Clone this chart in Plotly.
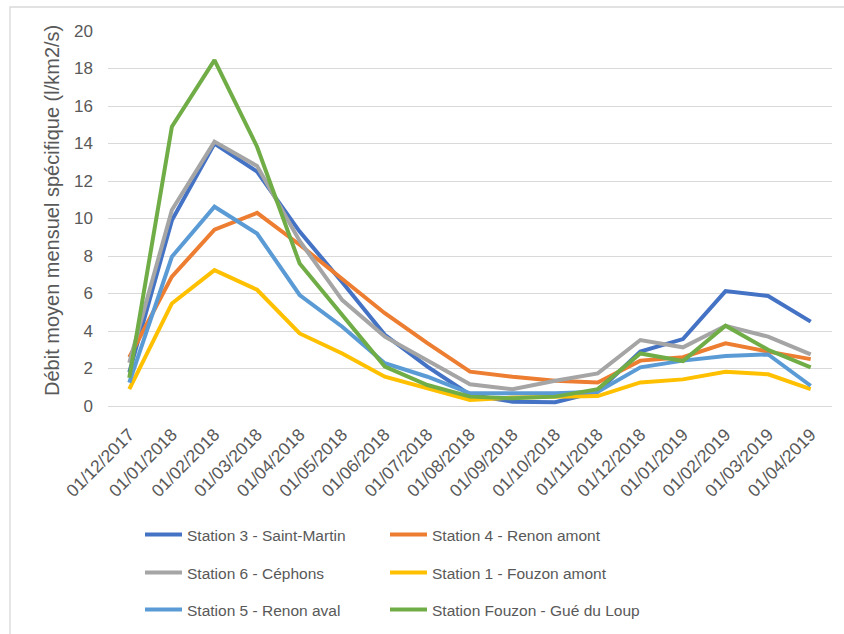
import plotly.graph_objects as go

# Months (first day of each month)
months = ["01/12/2017", "01/01/2018", "01/02/2018", "01/03/2018", "01/04/2018",
          "01/05/2018", "01/06/2018", "01/07/2018", "01/08/2018", "01/09/2018",
          "01/10/2018", "01/11/2018", "01/12/2018", "01/01/2019", "01/02/2019",
          "01/03/2019", "01/04/2019"]

# Specific mean monthly discharge (l/km2/s)
saint_martin = [1.8, 9.9, 14.0, 12.5, 9.3, 6.6, 3.8, 2.1, 0.6, 0.23, 0.2, 0.76, 2.9, 3.57, 6.13, 5.87, 4.5]
renon_amont = [2.6, 6.9, 9.4, 10.3, 8.6, 6.8, 4.95, 3.35, 1.83, 1.56, 1.35, 1.25, 2.42, 2.6, 3.34, 2.9, 2.5]
cephons = [2.3, 10.45, 14.1, 12.8, 8.8, 5.65, 3.7, 2.45, 1.16, 0.89, 1.35, 1.74, 3.52, 3.13, 4.28, 3.7, 2.75]
fouzon_amont = [0.9, 5.47, 7.25, 6.2, 3.87, 2.8, 1.56, 0.94, 0.32, 0.45, 0.5, 0.53, 1.26, 1.42, 1.83, 1.69, 0.9]
renon_aval = [1.25, 7.96, 10.63, 9.2, 5.92, 4.23, 2.28, 1.56, 0.68, 0.68, 0.68, 0.76, 2.06, 2.42, 2.67, 2.75, 1.08]
gue_du_loup = [1.5, 14.9, 18.45, 13.83, 7.6, 4.87, 2.1, 1.12, 0.5, 0.41, 0.5, 0.9, 2.8, 2.4, 4.28, 3.0, 2.06]

series = [
    ("Station 3 - Saint-Martin", saint_martin, "#4472C4"),
    ("Station 4 - Renon amont", renon_amont, "#ED7D31"),
    ("Station 6 - Céphons", cephons, "#A5A5A5"),
    ("Station 1 - Fouzon amont", fouzon_amont, "#FFC000"),
    ("Station 5 - Renon aval", renon_aval, "#5B9BD5"),
    ("Station Fouzon - Gué du Loup", gue_du_loup, "#70AD47"),
]

W, H = 844, 634
ML, MR, MT, MB = 108, 12, 31, 228
PW, PH = W - ML - MR, H - MT - MB

def px_x(px):
    return (px - ML) / PW

def px_y(py):
    return (H - MB - py) / PH

TEXT = "#595959"
FONT = "Liberation Sans, Arial, sans-serif"

fig = go.Figure()

# Legend slots (whole-figure coordinates): two columns, three rows
col_x = [140, 385]
row_y = [535, 573, 610]
legend_names = ["legend", "legend2", "legend3", "legend4", "legend5", "legend6"]

layout_legends = {}
for i, (name, vals, color) in enumerate(series):
    lg = legend_names[i]
    fig.add_trace(go.Scatter(
        x=months, y=vals, name=name, mode="lines",
        line=dict(color=color, width=4),
        legend=lg, hoverinfo="x+y+name",
    ))
    layout_legends[lg] = dict(
        xref="container", yref="container",
        x=col_x[i % 2] / W, y=(H - row_y[i // 2]) / H,
        xanchor="left", yanchor="middle",
        font=dict(family=FONT, size=15.5, color=TEXT),
        bgcolor="rgba(0,0,0,0)", itemwidth=37,
    )

fig.update_layout(
    width=W, height=H,
    margin=dict(l=ML, r=MR, t=MT, b=MB, autoexpand=False),
    paper_bgcolor="white", plot_bgcolor="white",
    showlegend=True,
    font=dict(family=FONT, color=TEXT),
    xaxis=dict(
        type="category", range=[-0.5, len(months) - 0.5],
        tickangle=-45, tickfont=dict(size=17.5, color=TEXT),
        showgrid=False, showline=False, zeroline=False, ticks="",
        ticklabelstandoff=14, fixedrange=True, automargin=False,
    ),
    yaxis=dict(
        range=[0, 20], dtick=2, tick0=0,
        tickfont=dict(size=17, color=TEXT),
        showgrid=True, gridcolor="#D9D9D9", gridwidth=1.3,
        zeroline=True, zerolinecolor="#D9D9D9", zerolinewidth=1.3,
        showline=False, ticks="", ticklabelstandoff=14, automargin=False,
    ),
    annotations=[dict(
        text="Débit moyen mensuel spécifique (l/km2/s)",
        xref="paper", yref="paper", x=px_x(52), y=px_y(211),
        xanchor="center", yanchor="middle", textangle=-90,
        showarrow=False, font=dict(family=FONT, size=20, color=TEXT),
    )],
    shapes=[dict(
        type="rect", xref="paper", yref="paper",
        x0=px_x(10), x1=px_x(870), y0=px_y(660), y1=px_y(7),
        line=dict(color="#D9D9D9", width=1.3), fillcolor="rgba(0,0,0,0)",
        layer="below",
    )],
    **layout_legends,
)

fig.write_html("out.html")
